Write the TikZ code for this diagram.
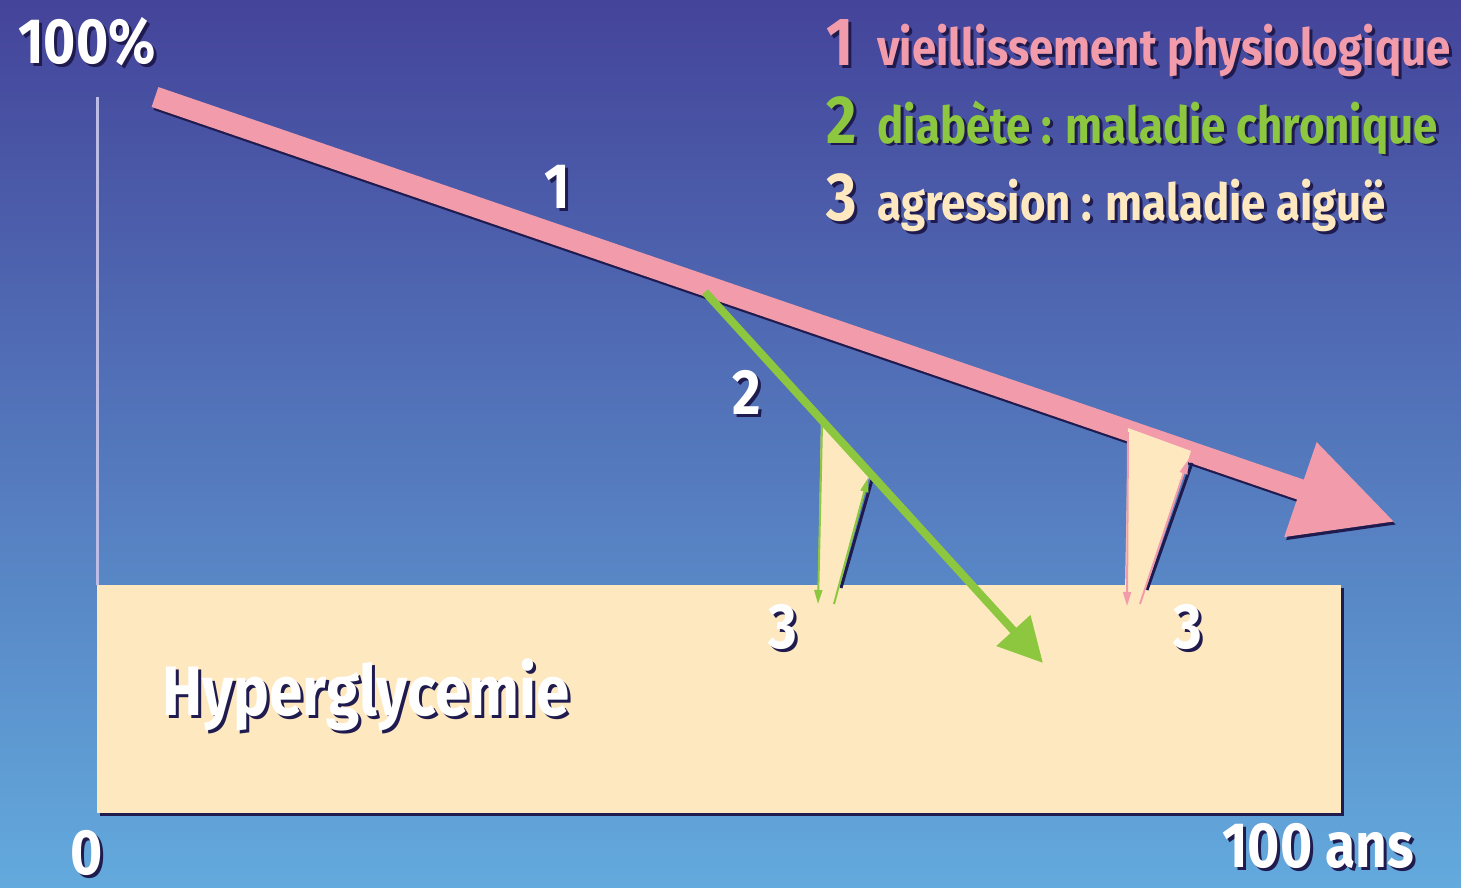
\documentclass[tikz,border=0pt]{standalone}
\usepackage{fontspec}
\setmainfont{Fira Sans}
\newfontfamily\cf{Fira Sans Bold}[FakeStretch=0.86]
\usetikzlibrary{arrows.meta,calc}
\definecolor{bgtop}{HTML}{44449A}
\definecolor{bgbot}{HTML}{63AADD}
\definecolor{pinkc}{HTML}{F29CAB}
\definecolor{greenc}{HTML}{8DC63F}
\definecolor{creamc}{HTML}{FEE8BF}
\definecolor{shadowc}{HTML}{1F1B4E}
\definecolor{axisc}{HTML}{BCBCE4}
\tikzset{
  txt/.style={inner sep=0pt, font=\cf\fontsize{32}{36}\selectfont},
  bigtxt/.style={inner sep=0pt, font=\cf\fontsize{35}{40}\selectfont},
  legtxt/.style={inner sep=0pt, font=\cf\fontsize{25.5}{30}\selectfont},
  legnum/.style={inner sep=0pt, font=\cf\fontsize{34}{40}\selectfont},
  thinarrow/.style={line width=1pt, -{Triangle[length=7pt,width=4pt]}},
}
% name, position, anchor, style, colour, text
\newcommand\shtext[6]{%
  \node[#4, text=shadowc, anchor=#3] (#1s) at ($(#2)+(3,3)$) {#6};
  \node[#4, text=#5, anchor=#3] (#1) at (#2) {#6};}
\begin{document}
\begin{tikzpicture}[x=0.5pt,y=-0.5pt]
\useasboundingbox (0,0) rectangle (1461,888);
\shade[top color=bgtop, bottom color=bgbot] (0,0) rectangle (1461,888);
% axis
\coordinate (ytop) at (97,97);
\coordinate (ybot) at (97,585);
\draw[axisc, line width=1.5pt] (ytop) -- (ybot);
% box
\fill[shadowc] (100,588) rectangle (1344,816);
\fill[creamc] (97,585) rectangle (1341,813);
% triangle 3 (left)
\fill[creamc] (821,420) -- (870,473) -- (838,592) -- (818,592) -- cycle;
\draw[shadowc, line width=1.5pt] (841,588) -- (872,480);
\coordinate (a3la) at (822,425);
\coordinate (a3lb) at (818,604);
\coordinate (a3lc) at (834,604);
\coordinate (a3ld) at (868,478);
\draw[greenc, thinarrow] (a3la) -- (a3lb);
\draw[greenc, thinarrow] (a3lc) -- (a3ld);
% arrow 1 (pink)
\coordinate (p1a) at (155,97);
\coordinate (p1b) at (1395,522);
\draw[shadowc, line width=10.5pt, -{Triangle[length=50pt,width=47pt]}] ($(p1a)+(2,3)$) -- ($(p1b)+(2,3)$);
\draw[pinkc, line width=10.5pt, -{Triangle[length=50pt,width=47pt]}] (p1a) -- (p1b);
% triangle 3 (right)
\fill[creamc] (1128,428) -- (1191,451) -- (1145,592) -- (1125,592) -- cycle;
\draw[shadowc, line width=1.5pt] (1147,590) -- (1192,463);
\coordinate (a3ra) at (1128,432);
\coordinate (a3rb) at (1127,606);
\coordinate (a3rc) at (1140,604);
\coordinate (a3rd) at (1188,460);
\draw[pinkc, thinarrow] (a3ra) -- (a3rb);
\draw[pinkc, thinarrow] (a3rc) -- (a3rd);
% arrow 2 (green)
\coordinate (g1a) at (705,292);
\coordinate (g1b) at (1043,663);
\draw[greenc, line width=4pt, -{Triangle[length=22pt,width=22pt]}] (g1a) -- (g1b);
% labels
\shtext{l100}{87,42}{center}{txt}{white}{100\%}
\shtext{lzero}{87,853}{center}{txt}{white}{0}
\shtext{lans}{1318,846}{center}{txt}{white}{100 ans}
\shtext{lone}{557,187}{center}{txt}{white}{1}
\shtext{ltwo}{747,392}{center}{txt}{white}{2}
\shtext{lthreea}{783,627}{center}{txt}{white}{3}
\shtext{lthreeb}{1188,627}{center}{txt}{white}{3}
\shtext{lhyp}{366,695}{center}{bigtxt}{white}{Hyperglycemie}
% legend
\shtext{n1}{826,66}{base west}{legnum}{pinkc}{1}
\shtext{t1}{877,66}{base west}{legtxt}{pinkc}{vieillissement physiologique}
\shtext{n2}{826,143}{base west}{legnum}{greenc}{2}
\shtext{t2}{877,143}{base west}{legtxt}{greenc}{diabète : maladie chronique}
\shtext{n3}{826,220}{base west}{legnum}{creamc}{3}
\shtext{t3}{877,220}{base west}{legtxt}{creamc}{agression : maladie aiguë}
\end{tikzpicture}
\end{document}
